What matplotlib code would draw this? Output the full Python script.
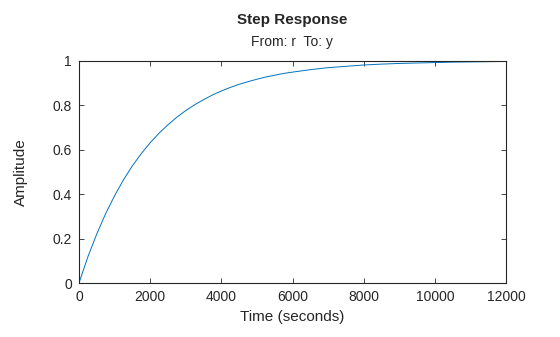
import matplotlib
matplotlib.use("Agg")
import matplotlib.pyplot as plt

plt.rcParams['font.family'] = ['Liberation Sans', 'DejaVu Sans']

# step response samples (seconds, amplitude)
t = [0, 250, 500, 750, 1000, 1250, 1500, 1750, 2000, 2250, 2500, 2750,
     3000, 3250, 3500, 3750, 4000, 4250, 4500, 4750, 5000, 5250, 5500,
     5750, 6000, 6500, 7000, 7500, 8000, 8500, 9000, 9500, 10000, 10500,
     11000, 11500, 12000]
amp = [0.0, 0.118, 0.221, 0.313, 0.393, 0.465, 0.528, 0.583, 0.632, 0.675,
       0.713, 0.747, 0.777, 0.803, 0.826, 0.847, 0.865, 0.881, 0.895, 0.907,
       0.918, 0.928, 0.936, 0.944, 0.950, 0.961, 0.970, 0.976, 0.982, 0.986,
       0.989, 0.991, 0.993, 0.995, 0.996, 0.997, 0.998]
final_value = 1.0

xticks = [0, 2000, 4000, 6000, 8000, 10000, 12000]
yticks = [0, 0.2, 0.4, 0.6, 0.8, 1]
ytick_labels = ['0', '0.2', '0.4', '0.6', '0.8', '1']

dark = '#262626'

fig = plt.figure(figsize=(5.6, 3.37), dpi=100)
ax = fig.add_axes([0.141, 0.160, 0.763, 0.659])

ax.plot([t[0], t[-1]], [final_value, final_value], ':', color='black', lw=0.6)
ax.plot(t, amp, color='#0072BD', lw=0.7)

ax.set_xlim(0, 12000)
ax.set_ylim(0, 1)
ax.set_xticks(xticks)
ax.set_xticklabels([str(v) for v in xticks])
ax.set_yticks(yticks)
ax.set_yticklabels(ytick_labels)

ax.tick_params(direction='in', length=3.5, width=0.6, colors=dark,
               labelsize=10, top=True, right=True, pad=5)
for s in ax.spines.values():
    s.set_color(dark)
    s.set_linewidth(0.8)

ax.set_xlabel('Time (seconds)', fontsize=11, color=dark, labelpad=4)
ax.set_ylabel('Amplitude', fontsize=11, color=dark, labelpad=18)

fig.text(0.522, 0.940, 'Step Response', ha='center', va='center',
         fontsize=11, fontweight='bold', color=dark)
fig.text(0.522, 0.875, 'From: r  To: y', ha='center', va='center',
         fontsize=10, color=dark)

fig.savefig('out.png', dpi=100)
